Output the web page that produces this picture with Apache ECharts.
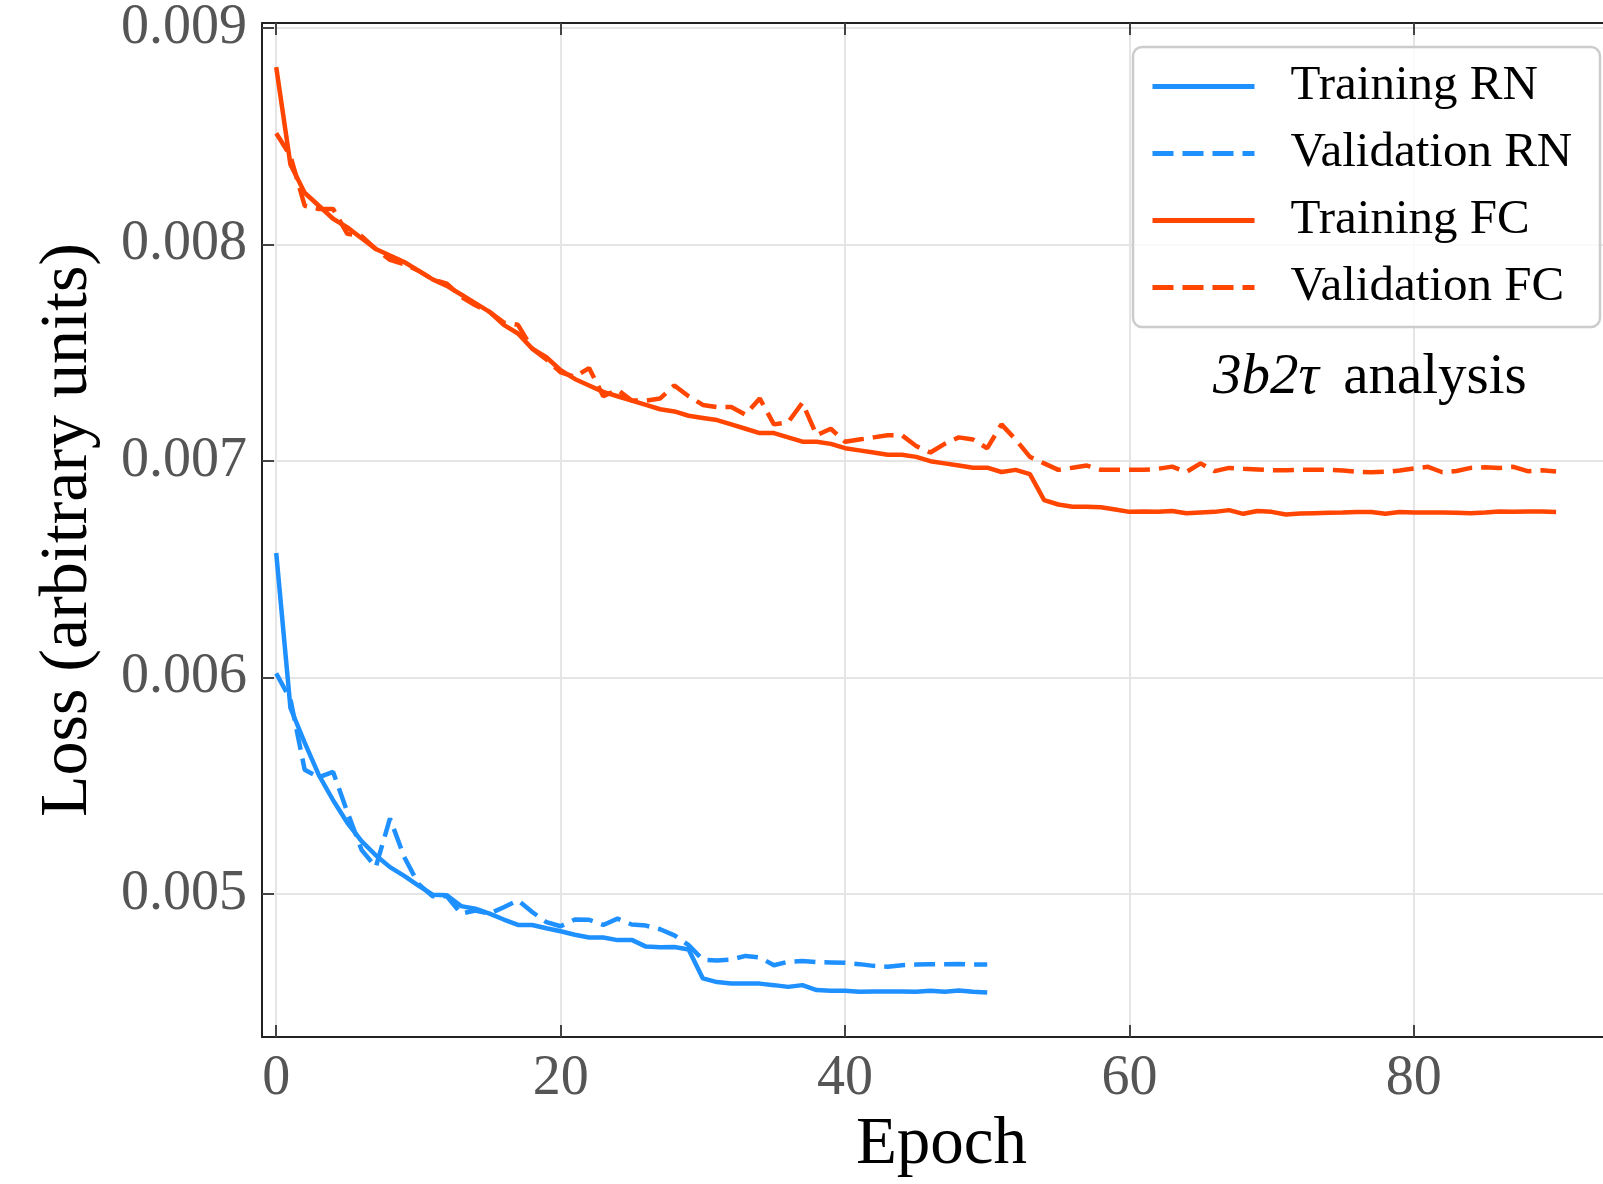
<!DOCTYPE html>
<html>

<head>
    <meta charset="utf-8">
    <script src="https://cdn.jsdelivr.net/npm/echarts@6/dist/echarts.min.js"></script>
</head>

<body style="margin: 0; background: #fff">
    <div id="container" style="width: 1603px; height: 1184px"></div>
    <script type="text/javascript">
        // loss per epoch
        var trainRN = [0.006576, 0.00586, 0.0057, 0.00555, 0.005434, 0.00533, 0.005245, 0.00518, 0.005125, 0.005085,
            0.00504, 0.004998, 0.004995, 0.004945, 0.004933, 0.00491, 0.004883, 0.004858, 0.004858, 0.004843,
            0.004829, 0.004813, 0.0048, 0.0048, 0.004788, 0.004789, 0.004758, 0.004755, 0.004756, 0.004745,
            0.004611, 0.004594, 0.004588, 0.004587, 0.004587, 0.00458, 0.004572, 0.00458, 0.004557, 0.004554,
            0.004554, 0.004549, 0.004551, 0.004551, 0.004551, 0.004549, 0.004554, 0.004549, 0.004555, 0.004549,
            0.004546];
        var valRN = [0.00602, 0.0059, 0.005575, 0.00554, 0.005565, 0.00538, 0.005205, 0.005125, 0.00535, 0.005172,
            0.005048, 0.00499, 0.00499, 0.00491, 0.004925, 0.00491, 0.00494, 0.004972, 0.004918, 0.004871,
            0.004852, 0.004883, 0.004882, 0.004858, 0.004887, 0.00486, 0.004855, 0.004838, 0.00481, 0.004765,
            0.004697, 0.004694, 0.004698, 0.004715, 0.004708, 0.004672, 0.004688, 0.004691, 0.004686, 0.004685,
            0.004683, 0.004677, 0.004669, 0.004665, 0.004672, 0.004675, 0.004677, 0.004677, 0.004678, 0.004675,
            0.004675];
        var trainFC = [0.00882, 0.00837, 0.00824, 0.00818, 0.00812, 0.00808, 0.00803, 0.00798, 0.00795, 0.00792,
            0.00788, 0.00784, 0.00781, 0.00777, 0.00773, 0.00769, 0.00763, 0.00759, 0.00752, 0.00748,
            0.00742, 0.00738, 0.00735, 0.00732, 0.0073, 0.00728, 0.00726, 0.00724, 0.00723, 0.00721,
            0.0072, 0.00719, 0.00717, 0.00715, 0.00713, 0.00713, 0.00711, 0.00709, 0.00709, 0.00708,
            0.00706, 0.00705, 0.00704, 0.00703, 0.00703, 0.00702, 0.007, 0.00699, 0.00698, 0.00697,
            0.00697, 0.00695, 0.00696, 0.00694, 0.00682, 0.0068, 0.00679, 0.00679, 0.006787, 0.006777,
            0.006766, 0.006768, 0.006766, 0.00677, 0.00676, 0.006763, 0.006766, 0.006774, 0.006757, 0.00677,
            0.006766, 0.006754, 0.006758, 0.00676, 0.006762, 0.006763, 0.006765, 0.006765, 0.006757, 0.006765,
            0.006763, 0.006763, 0.006763, 0.006762, 0.00676, 0.006763, 0.006768, 0.006766, 0.006768, 0.006768,
            0.006765];
        var valFC = [0.008515, 0.00841, 0.00818, 0.008165, 0.008165, 0.00805, 0.00804, 0.00798, 0.00793, 0.00791,
            0.00788, 0.00784, 0.00782, 0.00776, 0.00772, 0.00769, 0.00764, 0.00763, 0.00752, 0.00747,
            0.00741, 0.00739, 0.00743, 0.0073, 0.00733, 0.00728, 0.00728, 0.00729, 0.00735, 0.0073,
            0.00726, 0.00725, 0.00725, 0.007215, 0.00729, 0.00717, 0.00718, 0.00727, 0.00712, 0.00715,
            0.00709, 0.0071, 0.00711, 0.00712, 0.00712, 0.00707, 0.00704, 0.00708, 0.00711, 0.0071,
            0.00706, 0.00717, 0.0071, 0.00702, 0.00699, 0.00696, 0.00697, 0.00698, 0.00696, 0.00696,
            0.00696, 0.00696, 0.006965, 0.006975, 0.00695, 0.00699, 0.006954, 0.006969, 0.006965, 0.006962,
            0.006958, 0.006958, 0.00696, 0.00696, 0.00696, 0.006957, 0.006951, 0.006949, 0.006951, 0.006957,
            0.006966, 0.006974, 0.006949, 0.006955, 0.006969, 0.006972, 0.006969, 0.006974, 0.006954, 0.006958,
            0.006952];

        var xTicks = [0, 20, 40, 60, 80];
        var yTicks = [0.005, 0.006, 0.007, 0.008, 0.009];

        var serif = "'Liberation Serif', 'DejaVu Serif', serif";
        var blue = '#1E90FF';
        var red = '#FF4500';

        function pairs(arr) {
            return arr.map(function (v, i) { return [i, v]; });
        }

        var dom = document.getElementById('container');
        var myChart = echarts.init(dom, null, { renderer: 'canvas' });

        var option = {
            animation: false,
            backgroundColor: '#fff',
            // the original plot is cropped at the right edge of the page
            grid: { left: 262, top: 23, right: 0, bottom: 146, containLabel: false },
            xAxis: [{
                type: 'value',
                min: -1,
                max: 93.3,
                name: 'Epoch',
                nameLocation: 'middle',
                nameGap: 70,
                nameTextStyle: { fontFamily: serif, fontSize: 67, color: '#000', padding: [0, 0, 0, 18] },
                axisLine: { onZero: false, lineStyle: { color: '#222', width: 2 } },
                axisTick: { inside: true, length: 12, customValues: xTicks, lineStyle: { color: '#444', width: 2 } },
                axisLabel: { customValues: xTicks, fontFamily: serif, fontSize: 56, color: '#555', margin: 14 },
                splitLine: { show: true, lineStyle: { color: '#e5e5e5', width: 2 } }
            }, {
                type: 'value',
                position: 'top',
                min: -1,
                max: 93.3,
                axisLine: { onZero: false, lineStyle: { color: '#222', width: 2 } },
                axisTick: { inside: true, length: 12, customValues: xTicks, lineStyle: { color: '#444', width: 2 } },
                axisLabel: { show: false },
                splitLine: { show: false }
            }],
            yAxis: {
                type: 'value',
                min: 0.00434,
                max: 0.009024,
                name: 'Loss (arbitrary units)',
                nameLocation: 'middle',
                nameRotate: 90,
                nameGap: 160,
                nameTextStyle: { fontFamily: serif, fontSize: 68, color: '#000' },
                axisLine: { show: true, onZero: false, lineStyle: { color: '#222', width: 2 } },
                axisTick: { show: true, inside: true, length: 12, customValues: yTicks, lineStyle: { color: '#444', width: 2 } },
                axisLabel: {
                    customValues: yTicks, fontFamily: serif, fontSize: 56, color: '#555', margin: 15,
                    formatter: function (v) { return v.toFixed(3); }
                },
                splitLine: { show: true, lineStyle: { color: '#e5e5e5', width: 2 } }
            },
            legend: {
                orient: 'vertical',
                left: 1150,
                top: 53,
                padding: 0,
                itemGap: 0,
                itemWidth: 102,
                itemHeight: 2,
                itemStyle: { opacity: 0 },
                lineStyle: { width: 5 },
                textStyle: { fontFamily: serif, fontSize: 49, color: '#000', lineHeight: 67, padding: [0, 0, 0, 31] },
                data: ['Training RN', 'Validation RN', 'Training FC', 'Validation FC']
            },
            graphic: [{
                type: 'rect',
                z: 3,
                shape: { x: 1133, y: 47, width: 467, height: 280, r: 9 },
                style: { fill: 'rgba(255,255,255,0.8)', stroke: '#cccccc', lineWidth: 2.5 }
            }, {
                type: 'text',
                z: 5,
                x: 1213,
                y: 378,
                style: {
                    text: '{i|3b2τ} analysis',
                    fontFamily: serif,
                    fontSize: 57,
                    fill: '#000',
                    verticalAlign: 'middle',
                    rich: { i: { fontStyle: 'italic', fontFamily: serif, fontSize: 57, padding: [0, 10, 0, 0] } }
                }
            }],
            series: [{
                name: 'Training RN',
                type: 'line',
                symbol: 'none',
                showSymbol: false,
                data: pairs(trainRN),
                color: blue,
                lineStyle: { color: blue, width: 4.5 }
            }, {
                name: 'Validation RN',
                type: 'line',
                symbol: 'none',
                showSymbol: false,
                data: pairs(valRN),
                color: blue,
                lineStyle: { color: blue, width: 4.5, type: [21, 9] }
            }, {
                name: 'Training FC',
                type: 'line',
                symbol: 'none',
                showSymbol: false,
                data: pairs(trainFC),
                color: red,
                lineStyle: { color: red, width: 4.5 }
            }, {
                name: 'Validation FC',
                type: 'line',
                symbol: 'none',
                showSymbol: false,
                data: pairs(valFC),
                color: red,
                lineStyle: { color: red, width: 4.5, type: [21, 9] }
            }]
        };

        myChart.setOption(option);
    </script>
</body>

</html>
